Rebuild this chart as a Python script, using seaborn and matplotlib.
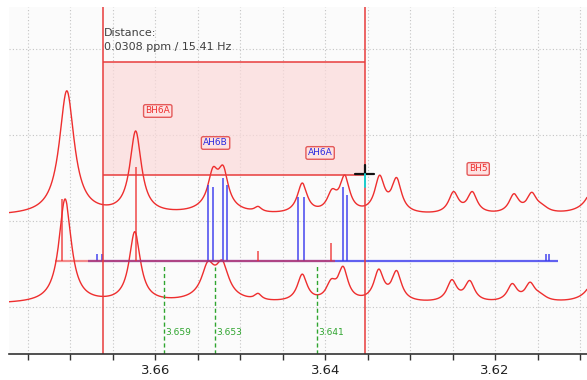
import numpy as np
import pandas as pd
import matplotlib
matplotlib.use("Agg")
import matplotlib.pyplot as plt
import seaborn as sns

# chemical-shift window (ppm), drawn from high to low shift
ppm_left, ppm_right = 3.6772, 3.6092

# measured spectrum: line positions (ppm), intensities and half widths (ppm)
obs_pos = [3.6704, 3.6623, 3.6532, 3.6520, 3.6528, 3.6479, 3.6427, 3.6392,
           3.6377, 3.6336, 3.6316, 3.6249, 3.6227, 3.6178, 3.6157, 3.6145, 3.6077]
obs_int = [1.442, 0.953, 0.360, 0.395, 0.093, 0.058, 0.349, 0.209,
           0.407, 0.407, 0.384, 0.244, 0.244, 0.215, 0.215, 0.058, 0.593]
obs_hw = [0.00106, 0.00082, 0.0007, 0.0007, 0.0024, 0.0005, 0.0007, 0.0007,
          0.0007, 0.0007, 0.0007, 0.0007, 0.0007, 0.0007, 0.0007, 0.0009, 0.0011]
obs_offset = 1.558

# simulated spectrum
sim_pos = [3.6706, 3.6624, 3.6538, 3.6521, 3.6530, 3.6479, 3.6427, 3.6393,
           3.6379, 3.6337, 3.6316, 3.6251, 3.6230, 3.6180, 3.6159, 3.6147, 3.6077]
sim_int = [1.209, 0.814, 0.326, 0.343, 0.093, 0.070, 0.314, 0.186,
           0.372, 0.349, 0.337, 0.244, 0.233, 0.198, 0.198, 0.058, 0.465]
sim_hw = [0.00088, 0.0008, 0.00088, 0.00088, 0.0024, 0.0005, 0.0007, 0.0007,
          0.0007, 0.0007, 0.0007, 0.0007, 0.0007, 0.0007, 0.0007, 0.0009, 0.0011]
sim_offset = 0.535

# stick spectrum (line list) of the two spin systems
stick_offset = 1.035
sys_b_pos = [3.6710, 3.6623, 3.6479, 3.6393]
sys_b_int = [0.721, 1.093, 0.116, 0.209]
sys_b_span = [3.6718, 3.6389]
sys_a_pos = [3.6669, 3.6663, 3.6538, 3.6532, 3.6520, 3.6516, 3.6432, 3.6425,
             3.6379, 3.6374, 3.6140, 3.6137]
sys_a_int = [0.081, 0.081, 0.884, 0.860, 0.970, 0.884, 0.744, 0.744,
             0.860, 0.767, 0.081, 0.081]
sys_a_span = [3.6679, 3.6126]

# peak picks
pick_ppm = [3.659, 3.653, 3.641]
pick_top = [0.988, 0.965, 0.988]
pick_labels = ["3.659", "3.653", "3.641"]

# multiplet assignments
assign_labels = ["BH6A", "AH6B", "AH6A", "BH5"]
assign_ppm = [3.6597, 3.6529, 3.6406, 3.6220]
assign_y = [2.779, 2.407, 2.291, 2.105]
assign_system = ["B", "A", "A", "B"]

# distance measurement between two cursors
cursor_ppm = [3.6661, 3.6353]
measure_box_y = [2.035, 3.349]
spectrometer_mhz = 500.3

x_ticks = [3.66, 3.64, 3.62]
x_tick_labels = ["3.66", "3.64", "3.62"]


def lorentz_sum(x, pos, amp, hw, offset):
    y = np.full_like(x, offset)
    for p, a, w in zip(pos, amp, hw):
        y += a / (1.0 + ((x - p) / w) ** 2)
    return y


sns.set_theme(style="white")
plt.rcParams["font.family"] = ["DejaVu Sans"]

RED = "#ee2e2e"
BLUE = "#3a3aee"
GREEN = "#2fa52f"

fig = plt.figure(figsize=(5.87, 3.80), dpi=100, facecolor="white")
ax = fig.add_axes([9 / 587, 26 / 380, 578 / 587, 347 / 380])
ax.set_facecolor("#fbfbfb")

x = np.linspace(ppm_right, ppm_left, 3000)
spectra = pd.DataFrame({
    "ppm": np.concatenate([x, x]),
    "intensity": np.concatenate([
        lorentz_sum(x, obs_pos, obs_int, obs_hw, obs_offset),
        lorentz_sum(x, sim_pos, sim_int, sim_hw, sim_offset)]),
    "trace": ["measured"] * len(x) + ["simulated"] * len(x),
})
sns.lineplot(data=spectra, x="ppm", y="intensity", units="trace",
             estimator=None, color=RED, lw=1.0, ax=ax, legend=False)

# stick spectra
ax.hlines(stick_offset, sys_a_span[1], sys_a_span[0], color=BLUE, lw=1.6, alpha=0.8)
ax.vlines(sys_a_pos, stick_offset, stick_offset + np.array(sys_a_int),
          color=BLUE, lw=1.3, alpha=0.8)
ax.hlines(stick_offset, sys_b_span[1], sys_b_span[0], color=RED, lw=1.6, alpha=0.55)
ax.vlines(sys_b_pos, stick_offset, stick_offset + np.array(sys_b_int),
          color=RED, lw=1.2, alpha=0.8)

# peak picks
for p, top, lab in zip(pick_ppm, pick_top, pick_labels):
    ax.vlines(p, -0.05, top, color=GREEN, lw=1.0, linestyles=(0, (3, 2)))
    ax.text(p - 0.0002, 0.198, lab, color=GREEN, fontsize=6.5,
            ha="left", va="center")

# measurement box and cursors
ax.fill_between(cursor_ppm, measure_box_y[0], measure_box_y[1],
                color="#fbd9d9", alpha=0.7, lw=0)
ax.hlines(measure_box_y, cursor_ppm[1], cursor_ppm[0], color="#e83c3c", lw=1.1)
for c in cursor_ppm:
    ax.axvline(c, color="#e83c3c", lw=1.1)
dist = abs(cursor_ppm[0] - cursor_ppm[1])
ax.text(cursor_ppm[0] - 0.00005, 3.69, "Distance:", fontsize=8, color="#404040",
        ha="left", va="center")
ax.text(cursor_ppm[0] - 0.00005, 3.52,
        f"{dist:.4f} ppm / {dist * spectrometer_mhz:.2f} Hz",
        fontsize=8, color="#404040", ha="left", va="center")

# mouse cursor
cx, cy = cursor_ppm[1], 2.047
ax.plot([cx + 0.00118, cx - 0.00106], [cy, cy], color="#111111", lw=1.6)
ax.plot([cx, cx], [cy, cy + 0.105], color="#111111", lw=1.6)
ax.plot([cx, cx], [cy, cy - 0.15], color="#19d0d0", lw=1.4)

# assignment labels
for lab, p, yv, s in zip(assign_labels, assign_ppm, assign_y, assign_system):
    ax.text(p, yv, lab, fontsize=6.5, color=RED if s == "B" else "#2a2ae0",
            ha="center", va="center",
            bbox=dict(boxstyle="round,pad=0.2", fc="#fde2e2", ec="#e45a5a", lw=1.0))

# axes styling (ticks first, then the view limits)
ax.set_xticks(x_ticks)
ax.set_xticklabels(x_tick_labels)
ax.set_xticks(np.arange(3.61, 3.6801, 0.005), minor=True)
ax.set_yticks([0.5, 1.5, 2.5, 3.5])
ax.set_xlim(ppm_left, ppm_right)
ax.set_ylim(-0.0465, 3.988)
ax.tick_params(axis="y", left=False, labelleft=False)
ax.tick_params(axis="x", which="both", direction="out", length=4, width=1,
               color="#333333", labelsize=9.5, labelcolor="#222222", pad=3,
               bottom=True)
ax.grid(True, which="both", axis="x", color="#c4c4c4", lw=0.8, ls=(0, (1, 2)))
ax.grid(True, which="major", axis="y", color="#c4c4c4", lw=0.8, ls=(0, (1, 2)))
ax.set_axisbelow(True)
for side in ["left", "top", "right"]:
    ax.spines[side].set_visible(False)
ax.spines["bottom"].set_color("#333333")
ax.spines["bottom"].set_linewidth(1.2)
ax.set_xlabel("")
ax.set_ylabel("")

fig.savefig("out.png", dpi=100, facecolor="white")
